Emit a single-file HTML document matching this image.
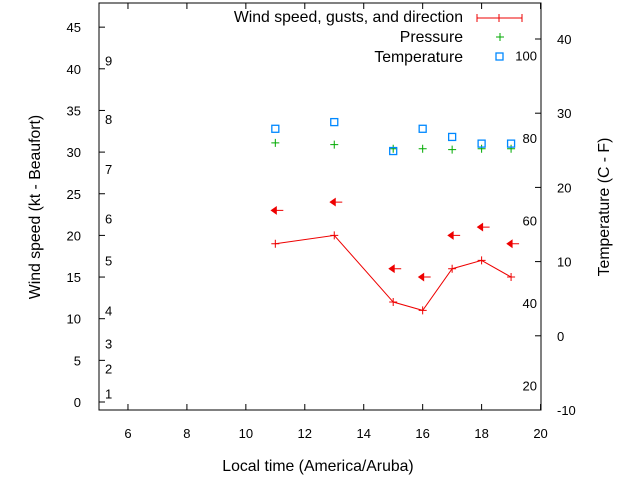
<!DOCTYPE html>
<html><head><meta charset="utf-8"><style>
body{margin:0;background:#fff}
svg{display:block;font-family:"Liberation Sans",sans-serif;font-size:13px}
.big{font-size:15.8px}
</style></head><body>
<svg id="chart" width="640" height="480">
<rect x="99" y="3" width="442" height="407" fill="none" stroke="#000" stroke-width="1"/>
<g id="axes"></g>
<g id="series"></g>
<text class="big" x="318" y="471" text-anchor="middle">Local time (America/Aruba)</text>
<text class="big" transform="translate(40,207) rotate(-90)" text-anchor="middle">Wind speed (kt - Beaufort)</text>
<text class="big" transform="translate(609,207) rotate(-90)" text-anchor="middle">Temperature (C - F)</text>
<g>
<text class="big" x="463" y="22" text-anchor="end">Wind speed, gusts, and direction</text>
<path d="M477,18H522M477,14V22M499,14V22M522,14V22" stroke="#e00" fill="none"/>
<text class="big" x="463" y="42" text-anchor="end">Pressure</text>
<path d="M496,37H504M500,33V41" stroke="#0a0"/>
<text class="big" x="463" y="62" text-anchor="end">Temperature</text>
<rect x="496" y="53" width="7" height="7" fill="none" stroke="#08f" stroke-width="1.3"/>
</g>
</svg>
<script>
const hours=[11,13,15,16,17,18,19];
const wind=[19,20,12,11,16,17,15];
const gusts=[23,24,16,15,20,21,19];
const pressure=[31.1,30.9,30.4,30.4,30.3,30.4,30.4];
const tempC=[27.9,28.8,24.9,27.9,26.8,25.9,25.9];
const xTicks=[6,8,10,12,14,16,18,20];
const yTicks=[0,5,10,15,20,25,30,35,40,45];
const y2Ticks=[-10,0,10,20,30,40];
const fTicks=[20,40,60,80,100];
const beaufort=[1,2,3,4,5,6,7,8,9];
const beaufortKt=[1,4,7,11,17,22,28,34,41];
const NS='http://www.w3.org/2000/svg';
const X=v=>98.5+(v-5)*29.47;
const Y=v=>402-v*8.33;
const Y2=c=>410-(c+10)*7.42;
const ax=document.getElementById('axes'),se=document.getElementById('series');
function mk(p,t,a,txt){const e=document.createElementNS(NS,t);for(const k in a)e.setAttribute(k,a[k]);if(txt!==undefined)e.textContent=txt;p.appendChild(e);return e;}
xTicks.forEach(v=>{const x=X(v);
const t=mk(ax,'path',{d:`M${x},410v-6M${x},3v6`,stroke:'#000'});


const l=mk(ax,'text',{x:x,y:438,'text-anchor':'middle'},v);

});
yTicks.forEach(v=>{const y=Y(v);
const t=mk(ax,'path',{d:`M99,${y}h6`,stroke:'#000'});


const l=mk(ax,'text',{x:81,y:y+5,'text-anchor':'end'},v);

});
y2Ticks.forEach(v=>{const y=Y2(v);
const t=mk(ax,'path',{d:`M541,${y}h-6`,stroke:'#000'});


const l=mk(ax,'text',{x:557,y:y+5,'text-anchor':'start'},v);

});
fTicks.forEach(f=>{const y=Y2((f-32)*5/9);
const l=mk(ax,'text',{x:537,y:y+5,'text-anchor':'end'},f);

});
beaufort.forEach((b,i)=>{const y=Y(beaufortKt[i]);
const l=mk(ax,'text',{x:105,y:y+5},b);

});
const line=mk(se,'polyline',{points:hours.map((h,i)=>X(h)+','+Y(wind[i])).join(' '),fill:'none',stroke:'#e00'});


hours.forEach((h,i)=>{const x=X(h),y=Y(wind[i]);
const p=mk(se,'path',{d:`M${x-4},${y}h8M${x},${y-4}v8`,stroke:'#e00'});


const gy=Y(gusts[i]);
const g=mk(se,'path',{d:`M${x-4},${gy}l5,-3.5v7zM${x},${gy}h8`,fill:'#e00',stroke:'#e00'});


const py=Y(pressure[i]);
const pp=mk(se,'path',{d:`M${x-4},${py}h8M${x},${py-4}v8`,stroke:'#0a0'});


const ty=Y2(tempC[i]);
const tp=mk(se,'rect',{x:x-3.5,y:ty-3.5,width:7,height:7,fill:'none',stroke:'#08f','stroke-width':1.3});

});
</script>
</body></html>
